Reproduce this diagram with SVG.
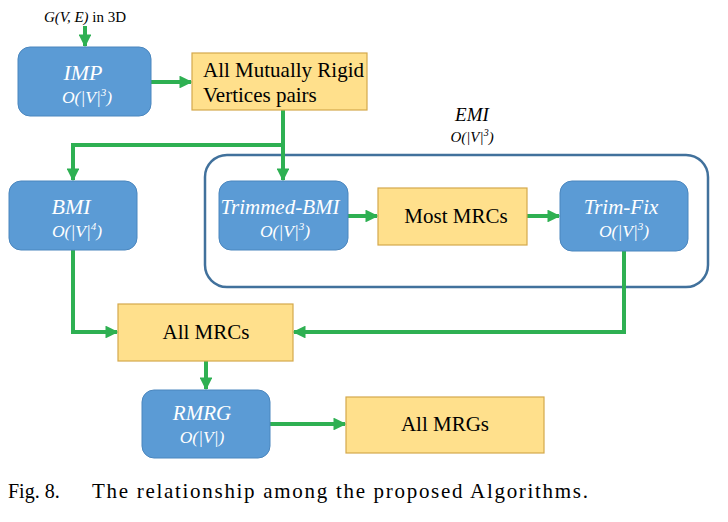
<svg xmlns="http://www.w3.org/2000/svg" width="728" height="522" viewBox="0 0 728 522" font-family="'Liberation Serif', 'Times New Roman', serif">
<style>
.alg{fill:#5B9BD5;stroke:#4A86BE;stroke-width:1}
.res{fill:#FFE08C;stroke:#D4A84C;stroke-width:1.2}
text{font-family:'Liberation Serif','Times New Roman',serif}
.w{fill:#FFFFFF;font-style:italic;text-anchor:middle}
.k{fill:#000000}
.c{fill:none;stroke:#2EB052;stroke-width:4}
</style>
<defs>
<marker id="ah" viewBox="0 0 10 10" refX="9" refY="5" markerWidth="3.2" markerHeight="3.2" orient="auto" markerUnits="strokeWidth">
<path d="M0,0 L10,5 L0,10 z" fill="#2EB052"/>
</marker>
</defs>
<rect width="728" height="522" fill="#FFFFFF"/>

<g id="input">
<text class="k" x="85" y="22" font-size="15" text-anchor="middle"><tspan font-style="italic">G(V, E)</tspan> in 3D</text>
</g>

<g id="emi">
<rect x="205" y="155" width="503" height="132" rx="22" fill="none" stroke="#41719C" stroke-width="2.5"/>
<text class="k" x="472" y="121" font-size="19" font-style="italic" text-anchor="middle">EMI</text>
<text class="k" x="472" y="142" font-size="15" font-style="italic" text-anchor="middle">O(|V|<tspan font-size="10" dy="-6">3</tspan><tspan dy="6">)</tspan></text>
</g>

<g id="connectors">
<line class="c" x1="85" y1="26" x2="85" y2="46" marker-end="url(#ah)"/>
<line class="c" x1="151" y1="82" x2="191" y2="82" marker-end="url(#ah)"/>
<polyline class="c" points="283,110 283,145 73,145 73,180" marker-end="url(#ah)"/>
<line class="c" x1="283" y1="145" x2="283" y2="180" marker-end="url(#ah)"/>
<line class="c" x1="348" y1="216" x2="377" y2="216" marker-end="url(#ah)"/>
<line class="c" x1="527" y1="216" x2="559" y2="216" marker-end="url(#ah)"/>
<polyline class="c" points="73,250 73,332 117,332" marker-end="url(#ah)"/>
<polyline class="c" points="624,251 624,332 294,332" marker-end="url(#ah)"/>
<line class="c" x1="206" y1="361" x2="206" y2="389" marker-end="url(#ah)"/>
<line class="c" x1="270" y1="424" x2="345" y2="424" marker-end="url(#ah)"/>
</g>

<g id="imp">
<rect class="alg" x="18" y="47" width="133" height="69" rx="12"/>
<text class="w" x="83" y="80" font-size="22">IMP</text>
<text class="w" x="87" y="103" font-size="17.5">O(|V|<tspan font-size="11" dy="-7">3</tspan><tspan dy="7">)</tspan></text>
</g>

<g id="amrvp">
<rect class="res" x="192" y="53" width="175" height="57"/>
<text class="k" x="203" y="77" font-size="21">All Mutually Rigid</text>
<text class="k" x="203" y="102" font-size="21">Vertices pairs</text>
</g>

<g id="bmi">
<rect class="alg" x="9" y="181" width="128" height="69" rx="12"/>
<text class="w" x="71" y="214" font-size="22">BMI</text>
<text class="w" x="77" y="237" font-size="17.5">O(|V|<tspan font-size="11" dy="-7">4</tspan><tspan dy="7">)</tspan></text>
</g>

<g id="trimmed-bmi">
<rect class="alg" x="219" y="181" width="129" height="69" rx="12"/>
<text class="w" x="280" y="214" font-size="21">Trimmed-BMI</text>
<text class="w" x="285" y="237" font-size="17.5">O(|V|<tspan font-size="11" dy="-7">3</tspan><tspan dy="7">)</tspan></text>
</g>

<g id="most-mrcs">
<rect class="res" x="378" y="188" width="149" height="57"/>
<text class="k" x="456" y="223" font-size="21" text-anchor="middle">Most MRCs</text>
</g>

<g id="trim-fix">
<rect class="alg" x="560" y="181" width="128" height="70" rx="12"/>
<text class="w" x="621" y="214" font-size="21">Trim-Fix</text>
<text class="w" x="624" y="237" font-size="17.5">O(|V|<tspan font-size="11" dy="-7">3</tspan><tspan dy="7">)</tspan></text>
</g>

<g id="all-mrcs">
<rect class="res" x="118" y="304" width="175" height="57"/>
<text class="k" x="206" y="339" font-size="21" text-anchor="middle">All MRCs</text>
</g>

<g id="rmrg">
<rect class="alg" x="142" y="390" width="128" height="68" rx="12"/>
<text class="w" x="202" y="420" font-size="21">RMRG</text>
<text class="w" x="202" y="443" font-size="17.5">O(|V|)</text>
</g>

<g id="all-mrgs">
<rect class="res" x="346" y="397" width="198" height="56"/>
<text class="k" x="445" y="431" font-size="21" text-anchor="middle">All MRGs</text>
</g>

<g id="caption">
<text class="k" x="8" y="498" font-size="20">Fig. 8.</text>
<text class="k" x="92" y="498" font-size="21" textLength="496" lengthAdjust="spacing">The relationship among the proposed Algorithms.</text>
</g>
</svg>
